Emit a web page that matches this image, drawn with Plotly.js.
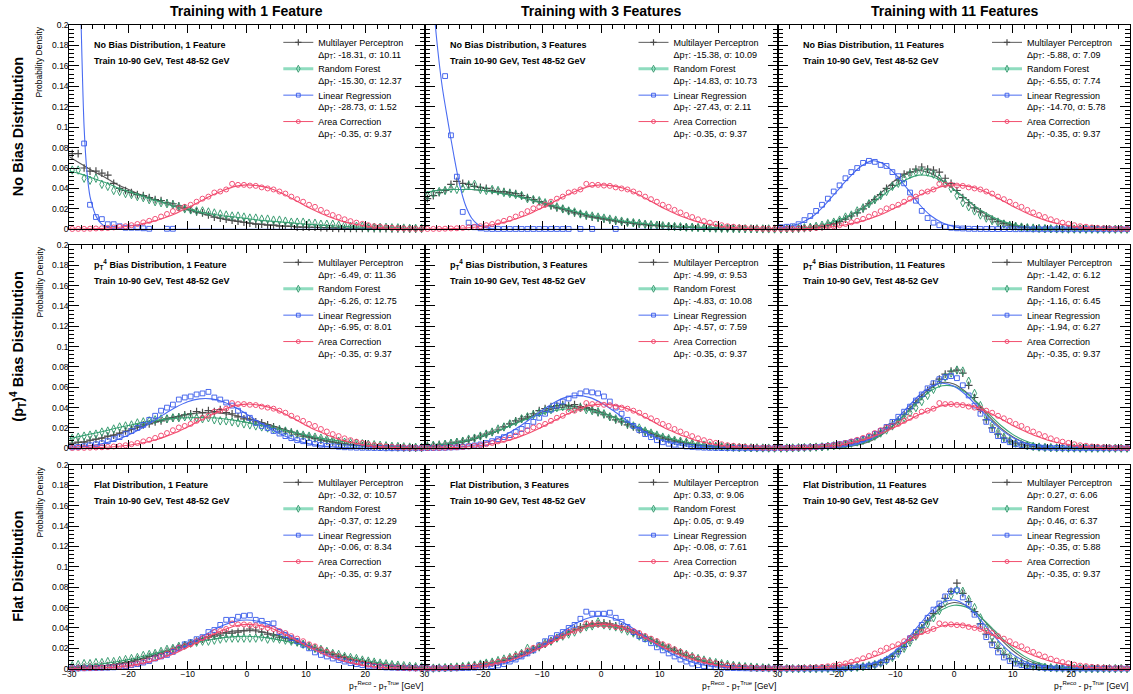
<!DOCTYPE html>
<html><head><meta charset="utf-8">
<script src="https://cdn.plot.ly/plotly-3.0.1.min.js"></script>
<style>html,body{margin:0;padding:0;background:#fff}#chart{width:1133px;height:694px}</style>
</head><body><div id="chart"></div>
<script>
// ---------- DATA ----------
const binCenters = [-29.5,-28.5,-27.5,-26.5,-25.5,-24.5,-23.5,-22.5,-21.5,-20.5,
 -19.5,-18.5,-17.5,-16.5,-15.5,-14.5,-13.5,-12.5,-11.5,-10.5,
 -9.5,-8.5,-7.5,-6.5,-5.5,-4.5,-3.5,-2.5,-1.5,-0.5,
 0.5,1.5,2.5,3.5,4.5,5.5,6.5,7.5,8.5,9.5,
 10.5,11.5,12.5,13.5,14.5,15.5,16.5,17.5,18.5,19.5,
 20.5,21.5,22.5,23.5,24.5,25.5,26.5,27.5,28.5,29.5];
const fitGrid = [-30,-28,-26,-24,-22,-20,-18,-16,-14,-12,-10,-8,-6,-4,-2,0,2,4,6,8,10,12,14,16,18,20,22,24,26,28,30];

const columnTitles = ['Training with 1 Feature','Training with 3 Features','Training with 11 Features'];
const rowTitles = ['No Bias Distribution','(p<sub>T</sub>)<sup>4</sup> Bias Distribution','Flat Distribution'];
const rowLabels = ['No Bias Distribution','p<sub>T</sub><sup>4</sup> Bias Distribution','Flat Distribution'];
const featureLabels = ['1 Feature','3 Features','11 Features'];
const trainLabel = 'Train 10-90 GeV, Test 48-52 GeV';
const modelNames = ['Multilayer Perceptron','Random Forest','Linear Regression','Area Correction'];
const xTickValsFirst = [-30,-20,-10,0,10,20,30];
const xTickValsOther = [-20,-10,0,10,20,30];

// Area correction (identical in every panel)
const acPts = [.0003,.0004,.0004,.0006,.0008,.001,.0013,.0018,.0024,.003,
 .004,.0052,.0068,.0083,.0102,.0125,.015,.0178,.0205,.022,
 .024,.027,.030,.032,.036,.037,.039,.0445,.0435,.0435,
 .0428,.0425,.041,.040,.039,.037,.035,.032,.0295,.027,
 .024,.022,.019,.0165,.014,.012,.0098,.008,.0065,.0053,
 .004,.003,.0025,.0018,.0014,.001,.0008,.0005,.0004,.0003];
const acFit = [.0002,.0003,.0006,.001,.0018,.003,.005,.0075,.011,.0155,.021,.027,.033,.038,.042,.0435,.0425,.040,.035,.029,.0225,.017,.012,.008,.0052,.0032,.0019,.0011,.0006,.0003,.0002];

// ----- No bias, 1 feature -----
const nb1MlpPts = [.074,.074,.060,.057,.057,.055,.053,.045,.040,.038,
 .036,.034,.033,.031,.029,.028,.026,.025,.023,.021,
 .019,.017,.016,.014,.012,.011,.010,.009,.008,.007,
 .006,.005,.005,.004,.004,.003,.003,.003,.002,.002,
 .002,.002,.0015,.0013,.0012,.001,.001,.001,.0009,.0008,
 .0008,.0007,.0006,.0006,.0005,.0005,.0004,.0004,.0003,.0003];
const nb1MlpFit = [.071,.064,.057,.051,.044,.039,.034,.030,.026,.022,.0195,.016,.013,.010,.008,.0065,.005,.0042,.0035,.0028,.0023,.0018,.0015,.0012,.001,.0008,.0006,.0005,.0004,.0003,.0003];
const nb1RfPts = [.058,.058,.050,.048,.050,.044,.042,.038,.037,.035,
 .034,.032,.031,.029,.027,.026,.025,.024,.022,.020,
 .019,.018,.018,.017,.016,.015,.014,.013,.013,.012,
 .011,.011,.010,.010,.009,.009,.008,.007,.007,.007,
 .006,.006,.005,.005,.005,.004,.004,.003,.003,.003,
 .002,.002,.002,.002,.0015,.0015,.0012,.001,.001,.001];
const nb1RfFit = [.057,.054,.050,.046,.041,.037,.033,.029,.026,.022,.020,.017,.015,.013,.012,.0105,.009,.008,.007,.006,.005,.0042,.0035,.003,.0025,.002,.0017,.0015,.0012,.001,.001];
const nb1LrPts = [.6,.3,.084,.024,.012,.010,.005,.005,.003,.0015,
 .0015,.0015,.001,.0005,null,null,.0005,.0005,null,null,
 null,null,null,null,null,null,null,null,null,null,
 null,null,null,null,null,null,null,null,null,null,
 null,null,null,null,null,null,null,null,null,null,
 null,null,null,null,null,null,null,null,null,null];
const nb1LrFitX = [-30,-29.5,-29,-28.5,-28,-27.5,-27,-26.5,-26,-25.5,-25,-24.5,-24,-23,-22,-20,-15,-10,0,10,20,30];
const nb1LrFit = [1.2,.8,.55,.33,.2,.1,.055,.032,.021,.013,.008,.005,.003,.001,.0003,0,0,0,0,0,0,0];
const nb1Stats = [[-18.31,10.11],[-15.30,12.37],[-28.73,1.52],[-0.35,9.37]];

// ----- No bias, 3 features -----
const nb3MlpPts = [.030,.033,.036,.038,.044,.047,.045,.044,.042,.041,
 .040,.038,.037,.037,.036,.035,.033,.031,.029,.027,
 .025,.023,.021,.020,.018,.016,.015,.013,.012,.011,
 .010,.009,.008,.007,.0065,.006,.005,.0045,.004,.0035,
 .003,.003,.0025,.002,.002,.0018,.0015,.0013,.0012,.001,
 .001,.0008,.0007,.0006,.0005,.0005,.0004,.0004,.0003,.0003];
const nb3MlpFit = [.035,.038,.039,.039,.039,.038,.037,.035,.032,.029,.026,.022,.019,.016,.013,.011,.0088,.007,.0055,.0045,.0035,.0028,.0022,.0017,.0013,.001,.0008,.0006,.0005,.0004,.0003];
const nb3RfPts = [.033,.035,.037,.038,.040,.039,.040,.043,.044,.039,
 .038,.039,.038,.036,.035,.034,.033,.030,.029,.028,
 .026,.024,.022,.020,.018,.017,.015,.014,.013,.012,
 .011,.010,.009,.008,.007,.0065,.006,.005,.0045,.004,
 .0035,.003,.0028,.0025,.002,.002,.0018,.0015,.0013,.0012,
 .001,.001,.0008,.0007,.0006,.0005,.0005,.0004,.0004,.0003];
const nb3RfFit = [.036,.038,.039,.039,.039,.038,.036,.034,.032,.029,.026,.023,.020,.017,.014,.012,.0098,.008,.0065,.0052,.0042,.0034,.0027,.0021,.0017,.0013,.001,.0008,.0006,.0005,.0004];
const nb3LrPts = [.45,.32,.22,.150,.092,.0515,.017,.0065,.002,.001,
 .0005,.0003,.0003,.0003,.0003,.0003,.0003,.0003,.0003,.0003,
 .0003,.0003,.0003,.0003,.0003,null,.0003,null,.0003,null,
 null,null,.0003,null,null,null,null,null,null,null,
 null,null,null,null,null,null,null,null,null,null,
 null,null,null,null,null,null,null,null,null,null];
const nb3LrFitX = [-30,-29,-28,-27,-26,-25,-24,-23,-22,-21,-20,-19,-18,-16,-10,0,10,20,30];
const nb3LrFit = [.32,.26,.19,.14,.105,.072,.043,.023,.011,.005,.002,.0008,.0003,0,0,0,0,0,0];
const nb3Stats = [[-15.38,10.09],[-14.83,10.73],[-27.43,2.11],[-0.35,9.37]];

// ----- No bias, 11 features -----
const nb11MlpPts = [.0001,.0001,.0003,.0005,.001,.0013,.002,.0025,.004,.0055,
 .0075,.010,.013,.016,.020,.025,.029,.034,.040,.043,
 .048,.054,.056,.059,.061,.059,.058,.056,.050,.045,
 .038,.031,.026,.021,.017,.013,.010,.0075,.0055,.004,
 .003,.002,.0015,.001,.0008,.0005,.0004,.0003,.0002,.0002,
 .0002,.0001,.0001,.0001,.0001,.0001,.0001,.0001,.0001,.0001];
const nb11MlpFit = [.0001,.0002,.0005,.0013,.003,.0065,.012,.019,.028,.038,.048,.055,.0575,.055,.048,.039,.030,.020,.0125,.0072,.004,.002,.0009,.0004,.0001,0,0,0,0,0,0];
const nb11RfPts = [.0003,.0005,.0008,.001,.0015,.002,.003,.004,.0055,.007,
 .009,.012,.014,.018,.021,.025,.029,.033,.037,.042,
 .045,.050,.054,.056,.057,.056,.054,.050,.045,.040,
 .033,.026,.022,.018,.014,.011,.0085,.0065,.005,.0038,
 .003,.0022,.0016,.0012,.0009,.0007,.0005,.0004,.0003,.0002,
 .0002,.0002,.0001,.0001,.0001,.0001,.0001,.0001,.0001,.0001];
const nb11RfFit = [.0003,.0006,.0013,.0026,.005,.0085,.013,.019,.026,.034,.042,.049,.053,.052,.047,.039,.030,.021,.014,.0085,.005,.0027,.0014,.0007,.0003,.0001,0,0,0,0,0];
const nb11LrPts = [.002,.0025,.003,.005,.009,.013,.018,.024,.030,.037,
 .043,.050,.056,.060,.065,.067,.066,.063,.062,.056,
 .052,.045,.036,.028,.018,.011,.0065,.004,.0025,.0015,
 .001,.0008,.0005,.0004,.0003,.0003,.0002,.0002,.0002,.0002,
 .0001,.0001,.0001,.0001,.0001,.0001,.0001,.0001,.0001,.0001,
 .0001,.0001,.0001,.0001,.0001,.0001,.0001,.0001,.0001,.0001];
const nb11LrFit = [.0015,.003,.0065,.013,.024,.037,.050,.061,.067,.064,.054,.040,.025,.0135,.0065,.0026,.0009,.0003,.0001,0,0,0,0,0,0,0,0,0,0,0,0];
const nb11Stats = [[-5.88,7.09],[-6.55,7.74],[-14.70,5.78],[-0.35,9.37]];

// ----- pT^4 bias, 1 feature -----
const pt1MlpPts = [.005,.006,.006,.008,.009,.010,.012,.013,.015,.017,
 .019,.021,.023,.024,.026,.027,.029,.030,.031,.033,
 .034,.036,.035,.037,.036,.038,.035,.034,.031,.029,
 .028,.026,.025,.023,.021,.019,.017,.016,.014,.012,
 .011,.0095,.008,.007,.006,.005,.0045,.0035,.003,.0025,
 .002,.0017,.0013,.001,.0009,.0007,.0005,.0004,.0003,.0003];
const pt1MlpFit = [.0042,.0059,.0081,.0108,.0139,.0174,.021,.0247,.0282,.0312,.0334,.0347,.035,.0342,.0324,.0298,.0265,.0229,.0192,.0156,.0123,.0094,.0069,.005,.0035,.0023,.0015,.001,.0006,.0004,.0002];
const pt1RfPts = [.010,.011,.012,.013,.014,.016,.017,.019,.021,.022,
 .023,.025,.026,.027,.028,.029,.029,.030,.030,.031,
 .031,.030,.029,.030,.028,.027,.027,.026,.025,.024,
 .023,.022,.021,.020,.019,.018,.017,.015,.014,.013,
 .012,.011,.010,.009,.008,.007,.006,.0055,.005,.0045,
 .004,.0035,.003,.0025,.002,.0018,.0015,.0012,.001,.0009];
const pt1RfFit = [.0095,.012,.0145,.017,.020,.0225,.025,.027,.0285,.0295,.030,.0302,.030,.029,.0275,.0255,.023,.0205,.018,.0155,.013,.0105,.0085,.0068,.0053,.004,.003,.0022,.0016,.0012,.0008];
const pt1LrPts = [.001,.0013,.002,.003,.004,.005,.007,.009,.011,.014,
 .017,.020,.023,.028,.032,.037,.040,.043,.048,.050,
 .051,.053,.054,.0555,.050,.048,.045,.042,.037,.033,
 .030,.025,.022,.020,.017,.0145,.012,.010,.008,.007,
 .0055,.0045,.0035,.0025,.002,.0015,.001,.0008,.0006,.0005,
 .0004,.0003,.0002,.0001,.0001,.0001,.0001,.0001,.0001,.0001];
const pt1LrFit = [.0008,.0016,.0029,.0051,.0084,.0131,.019,.026,.0334,.0403,.0457,.0486,.0486,.0457,.0403,.0334,.026,.019,.0131,.0084,.0051,.0029,.0016,.0008,.0004,.0002,.0001,0,0,0,0];
const pt1Stats = [[-6.49,11.36],[-6.26,12.75],[-6.95,8.01],[-0.35,9.37]];

// ----- pT^4 bias, 3 features -----
const pt3MlpPts = [.003,.003,.004,.004,.005,.006,.007,.008,.010,.012,
 .014,.016,.018,.021,.024,.027,.029,.031,.034,.037,
 .039,.041,.042,.043,.042,.043,.041,.040,.038,.035,
 .033,.031,.028,.026,.023,.021,.018,.016,.014,.012,
 .010,.0085,.007,.006,.005,.004,.003,.0025,.002,.0015,
 .0012,.001,.0008,.0006,.0005,.0004,.0003,.0003,.0002,.0002];
const pt3MlpFit = [.0013,.0022,.0036,.0055,.0083,.0118,.0161,.021,.0262,.0313,.0357,.039,.0408,.0408,.039,.0357,.0313,.0262,.021,.0161,.0118,.0083,.0055,.0036,.0022,.0013,.0007,.0004,.0002,.0001,.0001];
const pt3RfPts = [.002,.003,.003,.004,.005,.006,.007,.009,.010,.012,
 .014,.016,.019,.021,.024,.026,.029,.031,.033,.035,
 .037,.038,.040,.041,.040,.039,.040,.038,.037,.036,
 .034,.031,.029,.027,.024,.022,.020,.017,.015,.013,
 .011,.0095,.008,.007,.006,.005,.004,.0032,.0026,.002,
 .0016,.0013,.001,.0008,.0006,.0005,.0004,.0003,.0002,.0002];
const pt3RfFit = [.0016,.0027,.0041,.0062,.0089,.0123,.0163,.0208,.0256,.0301,.0341,.037,.0387,.0389,.0375,.0348,.0309,.0265,.0218,.0172,.013,.0095,.0067,.0045,.0029,.0018,.0011,.0006,.0003,.0002,.0001];
const pt3LrPts = [.0002,.0003,.0004,.0005,.0008,.001,.0015,.002,.0028,.0038,
 .0052,.007,.009,.011,.013,.016,.019,.022,.026,.030,
 .034,.038,.042,.046,.049,.052,.054,.056,.055,.054,
 .051,.046,.040,.034,.028,.022,.018,.014,.011,.008,
 .006,.0045,.0035,.0025,.0018,.0013,.0009,.0006,.0004,.0003,
 .0002,.0002,.0001,.0001,.0001,.0001,.0001,.0001,.0001,.0001];
const pt3LrFit = [.0001,.0003,.0006,.0014,.0027,.005,.0087,.014,.0209,.029,.0374,.0449,.0501,.052,.0501,.0449,.0374,.029,.0209,.014,.0087,.005,.0027,.0014,.0006,.0003,.0001,0,0,0,0];
const pt3Stats = [[-4.99,9.53],[-4.83,10.08],[-4.57,7.59],[-0.35,9.37]];

// ----- pT^4 bias, 11 features -----
const pt11MlpPts = [.0002,.0003,.0004,.0006,.0008,.001,.0012,.0015,.002,.0025,
 .003,.004,.005,.0065,.008,.010,.013,.016,.020,.024,
 .028,.033,.039,.045,.051,.057,.063,.068,.073,.076,
 .077,.074,.062,.050,.038,.028,.020,.014,.010,.007,
 .005,.0035,.0025,.0018,.0012,.0008,.0006,.0004,.0003,.0002,
 .0002,.0001,.0001,.0001,.0001,.0001,.0001,.0001,.0001,.0001];
const pt11MlpFit = [0,0,0,.0001,.0002,.0006,.0016,.0037,.0077,.0144,.024,.0362,.049,.0594,.0647,.0633,.0556,.0439,.0312,.0199,.0114,.0058,.0027,.0011,.0004,.0001,0,0,0,0,0];
const pt11RfPts = [.0002,.0003,.0004,.0005,.0007,.0009,.0012,.0015,.002,.0025,
 .003,.004,.005,.0062,.0078,.0095,.012,.015,.018,.022,
 .026,.030,.035,.040,.046,.052,.058,.064,.070,.074,
 .077,.076,.066,.054,.042,.031,.023,.016,.011,.0075,
 .005,.0035,.0025,.0018,.0012,.0008,.0006,.0004,.0003,.0002,
 .0002,.0001,.0001,.0001,.0001,.0001,.0001,.0001,.0001,.0001];
const pt11RfFit = [0,0,0,.0001,.0003,.0009,.0021,.0045,.0086,.0153,.0245,.0355,.047,.0564,.0615,.0609,.0548,.0448,.0333,.0224,.0137,.0076,.0038,.0018,.0007,.0003,.0001,0,0,0,0];
const pt11LrPts = [.0002,.0003,.0004,.0006,.0008,.001,.0013,.0017,.0022,.003,
 .004,.005,.0062,.0075,.009,.011,.014,.017,.021,.026,
 .031,.036,.041,.047,.053,.059,.064,.068,.070,.071,
 .069,.062,.052,.042,.034,.026,.018,.012,.008,.006,
 .004,.003,.002,.0014,.001,.0007,.0005,.0004,.0003,.0002,
 .0001,.0001,.0001,.0001,.0001,.0001,.0001,.0001,.0001,.0001];
const pt11LrFit = [0,0,0,.0001,.0004,.001,.0024,.0051,.0099,.0175,.0278,.0399,.0517,.0605,.064,.0611,.0527,.0411,.0289,.0184,.0106,.0055,.0025,.0011,.0004,.0002,.0001,0,0,0,0];
const pt11Stats = [[-1.42,6.12],[-1.16,6.45],[-1.94,6.27],[-0.35,9.37]];

// ----- Flat, 1 feature -----
const fl1MlpPts = [.001,.001,.0015,.002,.002,.003,.003,.004,.005,.006,
 .007,.009,.010,.012,.013,.015,.017,.019,.021,.023,
 .025,.027,.029,.031,.032,.033,.035,.035,.036,.037,
 .039,.038,.036,.034,.033,.031,.030,.028,.026,.024,
 .022,.020,.018,.016,.014,.012,.011,.009,.008,.007,
 .006,.005,.004,.0032,.0026,.002,.0016,.0012,.001,.0008];
const fl1MlpFit = [.00075,.0012,.002,.0031,.0046,.0067,.0094,.0126,.0164,.0205,.0247,.0289,.0325,.0354,.0371,.0376,.0367,.0346,.0315,.0277,.0235,.0192,.0151,.0115,.0085,.006,.0041,.0027,.0017,.0011,.0006];
const fl1RfPts = [.003,.004,.005,.005,.006,.006,.007,.007,.008,.009,
 .010,.011,.013,.014,.015,.017,.019,.020,.022,.023,
 .025,.026,.027,.027,.028,.029,.030,.030,.030,.030,
 .030,.030,.031,.029,.030,.029,.028,.027,.026,.024,
 .022,.020,.019,.017,.015,.014,.012,.011,.010,.0085,
 .0075,.0065,.0055,.0048,.004,.0035,.003,.0025,.002,.0018];
const fl1RfFit = [.0017,.0026,.0037,.0051,.0068,.0089,.0115,.0143,.0173,.0204,.0235,.0263,.0287,.0305,.0315,.0318,.0312,.0298,.0278,.0252,.0222,.0191,.016,.0131,.0104,.008,.006,.0044,.0032,.0022,.0015];
const fl1LrPts = [.0003,.0003,.0004,.0005,.0006,.0008,.001,.0013,.002,.0025,
 .0035,.0045,.006,.0075,.010,.012,.0135,.0165,.020,.024,
 .026,.029,.031,.036,.038,.043,.048,.048,.051,.052,
 .0525,.048,.047,.044,.0445,.036,.033,.030,.027,.0235,
 .020,.016,.0135,.012,.010,.0085,.007,.0055,.0045,.0035,
 .0028,.002,.0015,.0012,.001,.0008,.0006,.0005,.0004,.0003];
const fl1LrFit = [.0001,.0002,.0004,.0008,.0015,.0027,.0047,.0076,.0117,.017,.0233,.0302,.0369,.0426,.0465,.0478,.0465,.0426,.0369,.0302,.0233,.017,.0117,.0076,.0047,.0027,.0015,.0008,.0004,.0002,.0001];
const fl1Stats = [[-0.32,10.57],[-0.37,12.29],[-0.06,8.34],[-0.35,9.37]];

// ----- Flat, 3 features -----
const fl3MlpPts = [.0003,.0004,.0005,.0007,.001,.0013,.0017,.0022,.003,.0037,
 .0045,.0055,.0065,.008,.010,.012,.014,.016,.019,.021,
 .024,.027,.030,.033,.036,.039,.041,.043,.044,.044,
 .045,.044,.042,.041,.039,.036,.034,.031,.028,.026,
 .023,.020,.018,.015,.013,.011,.009,.0075,.006,.005,
 .004,.003,.0025,.002,.0015,.0011,.0009,.0007,.0005,.0004];
const fl3MlpFit = [.0002,.0003,.0006,.0012,.0021,.0035,.0056,.0086,.0125,.0172,.0227,.0285,.0341,.0388,.0421,.0435,.0428,.0401,.0358,.0304,.0246,.019,.0139,.0097,.0065,.0041,.0025,.0014,.0008,.0004,.0002];
const fl3RfPts = [.0005,.0006,.0008,.001,.0013,.0017,.0022,.0028,.0035,.0045,
 .0055,.0065,.008,.0095,.011,.013,.015,.020,.019,.022,
 .025,.027,.030,.032,.034,.036,.039,.041,.042,.046,
 .043,.042,.041,.039,.037,.035,.032,.030,.028,.025,
 .022,.020,.018,.016,.014,.012,.010,.0085,.007,.006,
 .005,.0042,.0033,.0026,.002,.0016,.0012,.0009,.0007,.0005];
const fl3RfFit = [.0003,.0005,.001,.0017,.0028,.0045,.0069,.01,.014,.0188,.024,.0293,.0343,.0383,.041,.042,.0411,.0385,.0345,.0296,.0242,.019,.0142,.0103,.007,.0046,.0029,.0017,.001,.0006,.0003];
const fl3LrPts = [.0002,.0002,.0003,.0003,.0004,.0005,.0006,.0008,.001,.0013,
 .0018,.0025,.0032,.0045,.007,.009,.012,.015,.018,.023,
 .027,.030,.033,.036,.040,.043,.049,.056,.054,.054,
 .054,.055,.050,.046,.041,.036,.032,.029,.025,.021,
 .018,.015,.012,.009,.007,.005,.0035,.0025,.0018,.0013,
 .001,.0008,.0006,.0005,.0004,.0003,.0003,.0002,.0002,.0002];
const fl3LrFit = [0,.0001,.0002,.0004,.0008,.0017,.0032,.0058,.0096,.0151,.0221,.0301,.0383,.0453,.0501,.0517,.0498,.0447,.0375,.0292,.0214,.0145,.0092,.0054,.003,.0016,.0008,.0003,.0002,.0001,0];
const fl3Stats = [[0.33,9.06],[0.05,9.49],[-0.08,7.61],[-0.35,9.37]];

// ----- Flat, 11 features -----
const fl11MlpPts = [.0001,.0001,.0001,.0001,.0001,.0001,.0001,.0002,.0002,.0003,
 .0005,.0007,.001,.0015,.002,.003,.004,.006,.009,.012,
 .017,.022,.028,.034,.040,.047,.054,.061,.069,.076,
 .084,.074,.066,.056,.044,.034,.026,.020,.014,.010,
 .007,.005,.0032,.002,.0014,.001,.0007,.0005,.0004,.0003,
 .0002,.0001,.0001,.0001,.0001,.0001,.0001,.0001,.0001,.0001];
const fl11MlpFit = [0,0,0,0,.0001,.0002,.0007,.0018,.0041,.0084,.0155,.0256,.0381,.0507,.0606,.065,.0624,.0538,.0416,.0288,.0179,.0099,.005,.0022,.0009,.0003,.0001,0,0,0,0];
const fl11RfPts = [.0001,.0001,.0001,.0001,.0001,.0002,.0002,.0003,.0003,.0004,
 .0005,.0007,.001,.0014,.002,.0028,.004,.0055,.008,.011,
 .015,.020,.026,.032,.038,.044,.050,.057,.065,.072,
 .077,.076,.068,.060,.050,.040,.031,.023,.017,.012,
 .0085,.006,.004,.003,.002,.0014,.001,.0007,.0005,.0003,
 .0002,.0002,.0001,.0001,.0001,.0001,.0001,.0001,.0001,.0001];
const fl11RfFit = [0,0,0,.0001,.0001,.0004,.0009,.0022,.0047,.0093,.0162,.0259,.0374,.0489,.058,.0623,.0607,.0536,.0428,.0311,.0204,.0121,.0065,.0032,.0014,.0006,.0002,.0001,0,0,0];
const fl11LrPts = [.0001,.0001,.0001,.0001,.0001,.0001,.0002,.0002,.0002,.0003,
 .0005,.0007,.001,.0014,.002,.003,.004,.006,.0085,.012,
 .017,.023,.030,.036,.043,.050,.058,.064,.071,.076,
 .077,.070,.063,.053,.042,.031,.023,.016,.011,.0075,
 .005,.0035,.0025,.0017,.0012,.0008,.0005,.0004,.0003,.0002,
 .0001,.0001,.0001,.0001,.0001,.0001,.0001,.0001,.0001,.0001];
const fl11LrFit = [0,0,0,0,.0001,.0003,.0007,.002,.0046,.0095,.0175,.029,.0425,.0557,.0649,.0674,.0623,.0513,.0377,.0246,.0143,.0074,.0034,.0014,.0005,.0002,.0001,0,0,0,0];
const fl11Stats = [[0.27,6.06],[0.46,6.37],[-0.35,5.88],[-0.35,9.37]];

// ---------- BUILD ----------
const panels = [
 {pts:[nb1MlpPts,nb1RfPts,nb1LrPts,acPts], fit:[nb1MlpFit,nb1RfFit,nb1LrFit,acFit], fitX:[fitGrid,fitGrid,nb1LrFitX,fitGrid], stats:nb1Stats},
 {pts:[nb3MlpPts,nb3RfPts,nb3LrPts,acPts], fit:[nb3MlpFit,nb3RfFit,nb3LrFit,acFit], fitX:[fitGrid,fitGrid,nb3LrFitX,fitGrid], stats:nb3Stats},
 {pts:[nb11MlpPts,nb11RfPts,nb11LrPts,acPts], fit:[nb11MlpFit,nb11RfFit,nb11LrFit,acFit], fitX:[fitGrid,fitGrid,fitGrid,fitGrid], stats:nb11Stats},
 {pts:[pt1MlpPts,pt1RfPts,pt1LrPts,acPts], fit:[pt1MlpFit,pt1RfFit,pt1LrFit,acFit], fitX:[fitGrid,fitGrid,fitGrid,fitGrid], stats:pt1Stats},
 {pts:[pt3MlpPts,pt3RfPts,pt3LrPts,acPts], fit:[pt3MlpFit,pt3RfFit,pt3LrFit,acFit], fitX:[fitGrid,fitGrid,fitGrid,fitGrid], stats:pt3Stats},
 {pts:[pt11MlpPts,pt11RfPts,pt11LrPts,acPts], fit:[pt11MlpFit,pt11RfFit,pt11LrFit,acFit], fitX:[fitGrid,fitGrid,fitGrid,fitGrid], stats:pt11Stats},
 {pts:[fl1MlpPts,fl1RfPts,fl1LrPts,acPts], fit:[fl1MlpFit,fl1RfFit,fl1LrFit,acFit], fitX:[fitGrid,fitGrid,fitGrid,fitGrid], stats:fl1Stats},
 {pts:[fl3MlpPts,fl3RfPts,fl3LrPts,acPts], fit:[fl3MlpFit,fl3RfFit,fl3LrFit,acFit], fitX:[fitGrid,fitGrid,fitGrid,fitGrid], stats:fl3Stats},
 {pts:[fl11MlpPts,fl11RfPts,fl11LrPts,acPts], fit:[fl11MlpFit,fl11RfFit,fl11LrFit,acFit], fitX:[fitGrid,fitGrid,fitGrid,fitGrid], stats:fl11Stats}
];

const STYLE = [
 {symbol:'cross-thin', size:5.5, lw:1.2, mcolor:'#4a4a4a', lcolor:'#5c5c5c', legLine:{color:'#5c5c5c',width:1}},
 {symbol:'diamond-tall-open', size:6, lw:0.9, mcolor:'#2a9466', lcolor:'#3aa676', legLine:{color:'#8fdcbf',width:3}},
 {symbol:'square-open', size:4.8, lw:0.9, mcolor:'#3558ea', lcolor:'#4a6cf2', legLine:{color:'#4a6cf2',width:1}},
 {symbol:'circle-open', size:5, lw:0.9, mcolor:'#f2406a', lcolor:'#f2506f', legLine:{color:'#f2506f',width:1}}
];

const W=1133, H=694;
const colPx=[[69.3,424.5],[424.5,777.5],[778,1130]];
const rowPx=[[25,229.3],[245,448.3],[465,668.7]];
const px=v=>v/W, py=v=>1-v/H;
const FONT='"Liberation Sans",Arial,sans-serif';
const fmt=v=>v.toFixed(2);

const traces=[]; const layout={
  width:W, height:H, margin:{l:0,r:0,t:0,b:0}, paper_bgcolor:'#fff', plot_bgcolor:'#fff',
  font:{family:FONT, color:'#000', size:9}, showlegend:true, annotations:[]
};

panels.forEach((P,i)=>{
  const r=Math.floor(i/3), c=i%3;
  const sfx = i===0?'':String(i+1);
  const xa='x'+sfx, ya='y'+sfx;
  const legId = i===0?'legend':'legend'+(i+1);
  const tv = c===0?xTickValsFirst:xTickValsOther;
  layout['xaxis'+sfx]={domain:[px(colPx[c][0]),px(colPx[c][1])], range:[-30,30], anchor:ya,
    tickmode:'array', tickvals:tv, ticktext:tv.map(v=>v<0?'\u2212'+Math.abs(v):String(v)),
    showticklabels:r===2, ticks:'inside', ticklen:8, tickwidth:1, tickcolor:'#000', ticklabelstandoff:-3,
    minor:{tickmode:'linear', tick0:0, dtick:2, ticks:'inside', ticklen:4, tickcolor:'#000', showgrid:false},
    showline:true, linecolor:'#000', linewidth:1, mirror:'ticks', showgrid:false, zeroline:false,
    tickfont:{size:8.5, family:FONT}, fixedrange:true};
  layout['yaxis'+sfx]={domain:[py(rowPx[r][1]),py(rowPx[r][0])], range:[0,0.2], anchor:xa,
    tickmode:'linear', tick0:0, dtick:0.02, showticklabels:c===0, ticklabelstandoff:-2,
    ticks:'inside', ticklen:10, tickwidth:1, tickcolor:'#000',
    minor:{dtick:0.004, ticks:'inside', ticklen:5, tickcolor:'#000', showgrid:false},
    showline:true, linecolor:'#000', linewidth:1, mirror:'ticks', showgrid:false, zeroline:false,
    tickfont:{size:8.5, family:FONT}, fixedrange:true};

  for(let m=0;m<4;m++){
    const S=STYLE[m];
    traces.push({x:P.fitX[m], y:P.fit[m], xaxis:xa, yaxis:ya, mode:'lines', type:'scatter',
      line:{color:S.lcolor, width:1.1, shape:'spline', smoothing:0.8}, showlegend:false, hoverinfo:'skip'});
    traces.push({x:binCenters, y:P.pts[m], xaxis:xa, yaxis:ya, mode:'markers', type:'scatter',
      marker:{symbol:S.symbol, size:S.size, color:S.mcolor, line:{width:S.lw, color:S.mcolor}},
      cliponaxis:false, showlegend:false, hoverinfo:'skip'});
  }
  for(let m=0;m<4;m++){
    const S=STYLE[m];
    traces.push({x:[null], y:[null], xaxis:xa, yaxis:ya, mode:'lines+markers', type:'scatter',
      name: modelNames[m]+'<br>\u0394p<sub>T</sub>: '+fmt(P.stats[m][0])+', \u03c3: '+fmt(P.stats[m][1]),
      line:S.legLine, marker:{symbol:S.symbol, size:S.size-1, color:S.mcolor, line:{width:S.lw,color:S.mcolor}},
      legend:legId, showlegend:true});
  }
  layout[legId]={x:px(colPx[c][0]+209), y:py(rowPx[r][0]+5), xanchor:'left', yanchor:'top',
    bgcolor:'rgba(0,0,0,0)', borderwidth:0, valign:'top', tracegroupgap:0, itemwidth:30,
    font:{size:9, family:FONT, color:'#000'}};

  layout.annotations.push({xref:'paper', yref:'paper', x:px(colPx[c][0]+23), y:py(rowPx[r][0]+20),
    xanchor:'left', yanchor:'middle', showarrow:false,
    text:'<b>'+rowLabels[r]+', '+featureLabels[c]+'</b>', font:{size:9, family:FONT}});
  layout.annotations.push({xref:'paper', yref:'paper', x:px(colPx[c][0]+23), y:py(rowPx[r][0]+36),
    xanchor:'left', yanchor:'middle', showarrow:false,
    text:'<b>'+trainLabel+'</b>', font:{size:9, family:FONT}});
});

columnTitles.forEach((t,c)=>{
  layout.annotations.push({xref:'paper', yref:'paper', x:px((colPx[c][0]+colPx[c][1])/2), y:py(11),
    xanchor:'center', yanchor:'middle', showarrow:false, text:'<b>'+t+'</b>', font:{size:14, family:FONT}});
  layout.annotations.push({xref:'paper', yref:'paper', x:px(colPx[c][1]), y:py(685),
    xanchor:'right', yanchor:'middle', showarrow:false,
    text:'p<sub>T</sub><sup>Reco</sup> - p<sub>T</sub><sup>True</sup> [GeV]', font:{size:8.5, family:FONT}});
});
rowTitles.forEach((t,r)=>{
  layout.annotations.push({xref:'paper', yref:'paper', x:px(18), y:py((rowPx[r][0]+rowPx[r][1])/2),
    xanchor:'center', yanchor:'middle', showarrow:false, textangle:-90,
    text:'<b>'+t+'</b>', font:{size:14.5, family:FONT}});
  layout.annotations.push({xref:'paper', yref:'paper', x:px(39), y:py(rowPx[r][0]),
    xanchor:'center', yanchor:'top', showarrow:false, textangle:-90,
    text:'Probability Density', font:{size:8.5, family:FONT}});
});

Plotly.newPlot('chart', traces, layout, {staticPlot:true, displayModeBar:false});
</script>
</body></html>
